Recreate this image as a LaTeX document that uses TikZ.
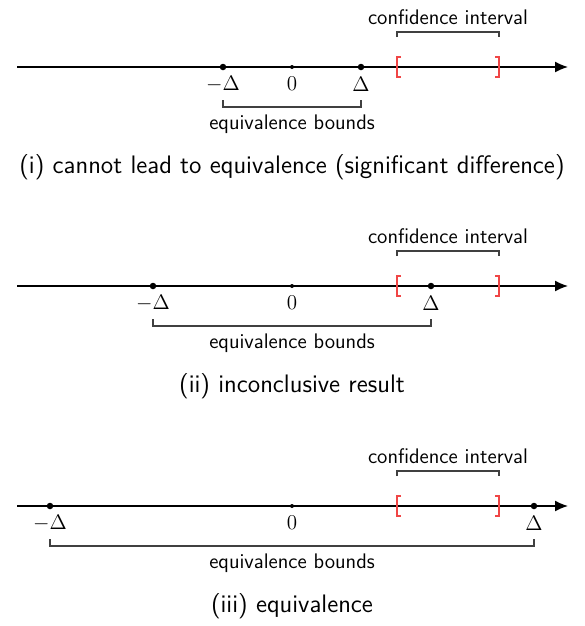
\documentclass[tikz,border=0pt]{standalone}
\usetikzlibrary{arrows.meta,calc}
\definecolor{cired}{RGB}{240,70,70}
\tikzset{
  axis/.style={thick, -{Latex[length=2.6mm,width=2.2mm]}},
  bigdot/.style={circle, fill, inner sep=0pt, minimum size=1.3mm},
  smalldot/.style={circle, fill, inner sep=0pt, minimum size=0.8mm},
  brace/.style={black!75, line width=0.6pt},
  cibracket/.style={cired, line width=1pt},
  mathlabel/.style={font=\large},
  textlabel/.style={font=\sffamily\large},
  caption/.style={font=\sffamily\Large}
}
\begin{document}
\begin{tikzpicture}[x=0.02cm,y=-0.02cm]
\useasboundingbox (0,0) rectangle (585,626);
\foreach \y/\d/\cap [count=\i] in {67/69/{(i) cannot lead to equivalence (significant difference)},
                                   286/139/{(ii) inconclusive result},
                                   506/242/{(iii) equivalence}}{
\begin{scope}[shift={(0,\y)}]
% number line
\coordinate (start\i) at (17,0);
\coordinate (end\i) at (568,0);
\draw [axis] (start\i) -- (end\i);
\node [bigdot] (lo\i) at (292-\d,0) {};
\node [smalldot] (zero\i) at (292,0) {};
\node [bigdot] (hi\i) at (292+\d,0) {};
\node [mathlabel] at ($(lo\i)+(0,17)$) {$-\Delta$};
\node [mathlabel] at ($(zero\i)+(0,17)$) {$0$};
\node [mathlabel] at ($(hi\i)+(0,17)$) {$\Delta$};
% equivalence bounds
\draw [brace] ($(lo\i)+(0,33)$) -- ($(lo\i)+(0,40)$) -- ($(hi\i)+(0,40)$) -- ($(hi\i)+(0,33)$);
\node [textlabel] (eqb\i) at ($(zero\i)+(0,57)$) {equivalence bounds};
% confidence interval
\coordinate (cil\i) at (397,0);
\coordinate (cir\i) at (499,0);
\draw [cibracket] ($(cil\i)+(4,-10)$) -- ++(-4,0) -- ++(0,20) -- ++(4,0);
\draw [cibracket] ($(cir\i)+(-4,-10)$) -- ++(4,0) -- ++(0,20) -- ++(-4,0);
\draw [brace] ($(cil\i)+(0,-30)$) -- ($(cil\i)+(0,-35)$) -- ($(cir\i)+(0,-35)$) -- ($(cir\i)+(0,-30)$);
\node [textlabel] (ci\i) at (448,-50) {confidence interval};
% caption
\node [caption] (cap\i) at (292,100) {\cap};
\end{scope}
}
\end{tikzpicture}
\end{document}
